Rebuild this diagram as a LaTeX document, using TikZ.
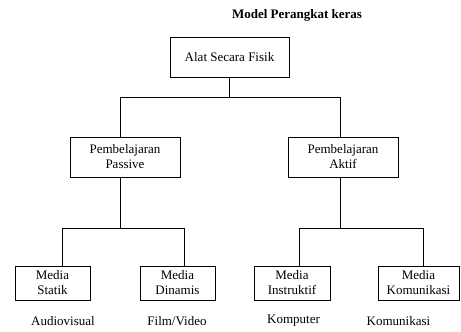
\documentclass[tikz,border=0pt]{standalone}
\usepackage{fontspec}
\setmainfont{Liberation Serif}
\begin{document}
\begin{tikzpicture}[x=1pt,y=-1pt,
  every node/.style={font=\fontsize{13}{15}\selectfont},
  kotak/.style={draw, line width=0.7pt, align=center, inner sep=0pt},
  atas/.style={kotak, minimum width=119pt, minimum height=40pt},
  tengah/.style={kotak, minimum width=110pt, minimum height=40pt},
  bawah/.style={kotak, minimum width=75pt, minimum height=34pt},
  garis/.style={line width=0.7pt}]
  \useasboundingbox (0,0) rectangle (461,332);
  \node[font=\fontsize{13}{15}\selectfont\bfseries] (judul) at (297,15) {Model Perangkat keras};
  \node[atas] (alat) at (229.5,57) {Alat Secara Fisik};
  \node[tengah] (pasif) at (125,157) {Pembelajaran\\Passive};
  \node[tengah] (aktif) at (343,157) {Pembelajaran\\Aktif};
  \node[bawah] (statik) at (52.5,283) {Media\\Statik};
  \node[bawah] (dinamis) at (177.5,283) {Media\\Dinamis};
  \node[bawah, minimum width=76pt] (instruktif) at (292,283) {Media\\Instruktif};
  \node[bawah, minimum width=81pt] (komunikasi) at (418.5,283) {Media\\Komunikasi};
  % contoh media
  \node (audio) at (63,321) {Audiovisual};
  \node (film) at (177,321) {Film/Video};
  \node (komputer) at (293.5,321) {Komputer};
  \node (kom) at (398.5,321) {Komunikasi};
  % garis penghubung
  \draw[garis] (alat.south) -- ++(0,20) -| ([xshift=-5pt]pasif.north);
  \draw[garis] (alat.south) -- ++(0,20) -| ([xshift=-3pt]aktif.north);
  \draw[garis] ([xshift=-5pt]pasif.south) -- ++(0,51) -| ([xshift=9.5pt]statik.north);
  \draw[garis] ([xshift=-5pt]pasif.south) -- ++(0,51) -| ([xshift=6.5pt]dinamis.north);
  \draw[garis] ([xshift=-3pt]aktif.south) -- ++(0,51) -| ([xshift=7pt]instruktif.north);
  \draw[garis] ([xshift=-3pt]aktif.south) -- ++(0,51) -| ([xshift=4.5pt]komunikasi.north);
\end{tikzpicture}
\end{document}
